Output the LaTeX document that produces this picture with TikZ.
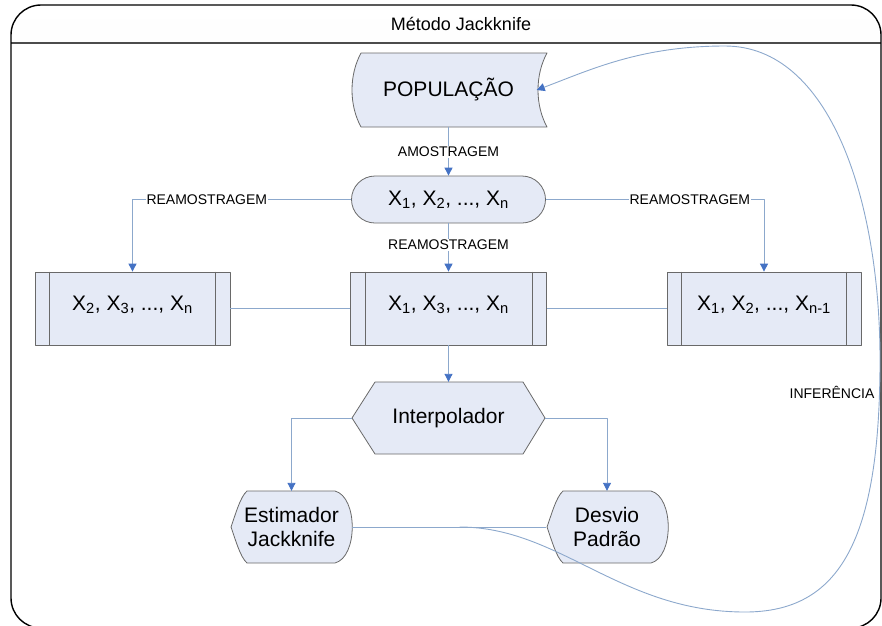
\documentclass[tikz,border=0pt]{standalone}
\usepackage{fontspec}
\setmainfont{Liberation Sans}
\usetikzlibrary{shapes.misc,arrows.meta,calc}
\definecolor{shapefill}{RGB}{229,234,246}
\definecolor{shapeline}{RGB}{105,105,105}
\definecolor{connline}{RGB}{140,168,204}
\definecolor{arrowblue}{RGB}{68,114,196}
\begin{document}
\begin{tikzpicture}[x=1pt,y=-1pt,line join=round,
  shapebox/.style={draw=shapeline,fill=shapefill,line width=0.8pt},
  conn/.style={draw=connline,line width=0.9pt,-{Triangle[length=8pt,width=8pt,color=arrowblue]}},
  plainconn/.style={draw=connline,line width=0.9pt},
  lab/.style={fill=white,inner sep=1pt,font=\fontsize{14pt}{16pt}\selectfont},
  big/.style={font=\fontsize{21pt}{24pt}\selectfont,inner sep=0pt},
  procbox/.style={shapebox,big,minimum height=73pt,text height=12pt,text depth=8pt},
  disp/.style={big,align=center,minimum width=121pt,minimum height=72pt}
]
\useasboundingbox (0,0) rectangle (882,625);
\begin{scope}
  \clip (0,0) rectangle (882,625);
% header
\begin{scope}
  \clip (0,0) rectangle (882,43);
  \shade[top color=white,bottom color=gray!18,rounded corners=30pt] (11,5) rectangle (881,628);
\end{scope}
\draw[line width=1.6pt,draw=black!70] (11,43) -- (881,43);
\draw[line width=1.4pt,rounded corners=30pt] (11,5) rectangle (881,628);
\node[font=\fontsize{18pt}{20pt}\selectfont] (title) at (461,24) {Método Jackknife};

% outlines of custom shapes
\path[shapebox] (361,53) -- (547,53) .. controls (535,75) and (535,105) .. (547,127) -- (361,127) .. controls (349,105) and (349,75) .. (361,53) -- cycle;
\path[shapebox] (352,418) -- (375,382) -- (523,382) -- (545,418) -- (523,454) -- (375,454) -- cycle;
\path[shapebox] (247,491) -- (335,491) .. controls (358,497) and (358,557) .. (335,563) -- (247,563) .. controls (240,557) and (235,538) .. (231,527) .. controls (235,516) and (240,497) .. (247,491) -- cycle;
\path[shapebox] (563,491) -- (651,491) .. controls (674,497) and (674,557) .. (651,563) -- (563,563) .. controls (556,557) and (551,538) .. (547,527) .. controls (551,516) and (556,497) .. (563,491) -- cycle;

% nodes
\node[big,minimum width=194pt,minimum height=74pt] (pop) at (448.5,90) {POPULAÇÃO};
\node[shapebox,rounded rectangle,big,minimum width=194pt,minimum height=47pt] (samp) at (448.5,199.5) {X\textsubscript{1}, X\textsubscript{2}, ..., X\textsubscript{n}};
\node[procbox,minimum width=195pt] (b1) at (132.5,308.5) {X\textsubscript{2}, X\textsubscript{3}, ..., X\textsubscript{n}};
\node[procbox,minimum width=196pt] (b2) at (448.5,308.5) {X\textsubscript{1}, X\textsubscript{3}, ..., X\textsubscript{n}};
\node[procbox,minimum width=194pt] (b3) at (764,308.5) {X\textsubscript{1}, X\textsubscript{2}, ..., X\textsubscript{n-1}};
\foreach \b in {b1,b2,b3}{
  \draw[draw=shapeline,line width=0.8pt] ([xshift=15pt]\b.north west) -- ([xshift=15pt]\b.south west);
  \draw[draw=shapeline,line width=0.8pt] ([xshift=-15pt]\b.north east) -- ([xshift=-15pt]\b.south east);
}
\node[big,minimum width=193pt,minimum height=72pt] (hex) at (448.5,418) {Interpolador};
\node[disp] (est) at (291.5,527) {Estimador\\Jackknife};
\node[disp] (dev) at (607,527) {Desvio\\Padrão};

% connectors
\draw[conn] (pop.south) -- node[lab,pos=0.51]{AMOSTRAGEM} (samp.north);
\draw[conn] (samp.south) -- node[lab,pos=0.45]{REAMOSTRAGEM} (b2.north);
\draw[conn] (samp.west) -| node[lab,pos=0.33]{REAMOSTRAGEM} (b1.north);
\draw[conn] (samp.east) -| node[lab,pos=0.33]{REAMOSTRAGEM} (b3.north);
\draw[plainconn] (b1.east) -- (b2.west);
\draw[plainconn] (b2.east) -- (b3.west);
\draw[conn] (b2.south) -- (hex.north);
\draw[conn] (hex.west) -| (est.north);
\draw[conn] (hex.east) -| (dev.north);
\draw[plainconn] (est.east) -- (dev.west);
\coordinate (infstart) at ($(est.east)!0.554!(dev.west)$);
\coordinate (popin) at ([xshift=-9pt]pop.east);
\draw[conn] (infstart) .. controls (560,527) and (620,612) .. (745,612)
  .. controls (840,612) and (880,540) .. (880,360)
  .. controls (880,200) and (830,46) .. (725,46)
  .. controls (640,46) and (590,70) .. (popin);
\node[font=\fontsize{14pt}{16pt}\selectfont,inner sep=1pt] (inf) at (832,392) {INFERÊNCIA};
\end{scope}
\end{tikzpicture}
\end{document}
